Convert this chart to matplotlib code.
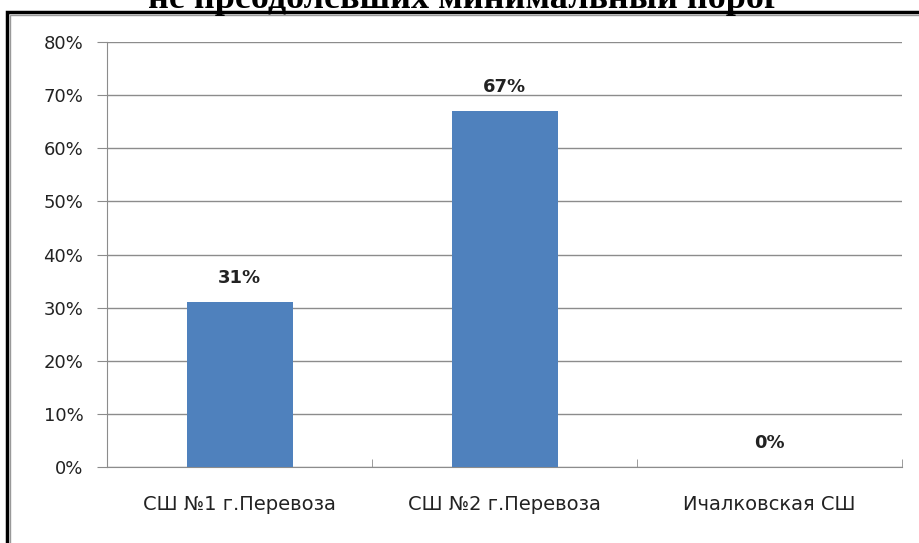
import matplotlib.pyplot as plt
from matplotlib.patches import Rectangle
from matplotlib.ticker import PercentFormatter

schools = ['СШ №1 г.Перевоза', 'СШ №2 г.Перевоза', 'Ичалковская СШ']
shares = [31, 67, 0]
title = 'не преодолевших минимальный порог'

plt.rcParams['font.family'] = ['DejaVu Sans']

fig = plt.figure(figsize=(9.19, 5.43), dpi=100)
ax = fig.add_axes([107/919, 1 - 467/543, 795/919, 425/543])

x = range(len(schools))
ax.bar(x, shares, width=0.4, color='#4f81bd', zorder=3)
for i, v in enumerate(shares):
    ax.text(i, v + 4.6, f'{v}%', ha='center', va='center', fontsize=13,
            fontweight='bold', color='#222222')

ax.set_xlim(-0.5, 2.5)
ax.set_ylim(0, 80)
ax.set_yticks(range(0, 81, 10))
ax.yaxis.set_major_formatter(PercentFormatter(decimals=0))
ax.set_xticks([-0.5, 0.5, 1.5, 2.5], minor=True)
ax.set_xticks(list(x))
ax.set_xticklabels(schools)
ax.tick_params(axis='x', which='major', length=0, pad=20, labelsize=14, colors='#222222')
ax.tick_params(axis='x', which='minor', length=6, direction='in', color='#8c8c8c')
ax.tick_params(axis='y', length=7, color='#8c8c8c', labelsize=13, labelcolor='#222222', pad=10)
ax.grid(axis='y', color='#8c8c8c', linewidth=1, zorder=0)
for s in ['top', 'right']:
    ax.spines[s].set_visible(False)
for s in ['left', 'bottom']:
    ax.spines[s].set_color('#8c8c8c')

# frame of the chart area, cut off at right and bottom
fig.patches.append(Rectangle((7/919, -0.1), 1.2, 1 - 12/543 + 0.1, transform=fig.transFigure,
                             fill=False, edgecolor='black', linewidth=2.5))
fig.patches.append(Rectangle((10/919, -0.1), 1.2, 1 - 15/543 + 0.1, transform=fig.transFigure,
                             fill=False, edgecolor='#999999', linewidth=1))

fig.text(0.505, 1 - 8/543, title, ha='center', va='baseline', fontsize=26,
         fontweight='bold', family='Liberation Serif')

fig.savefig('out.png', dpi=100)
